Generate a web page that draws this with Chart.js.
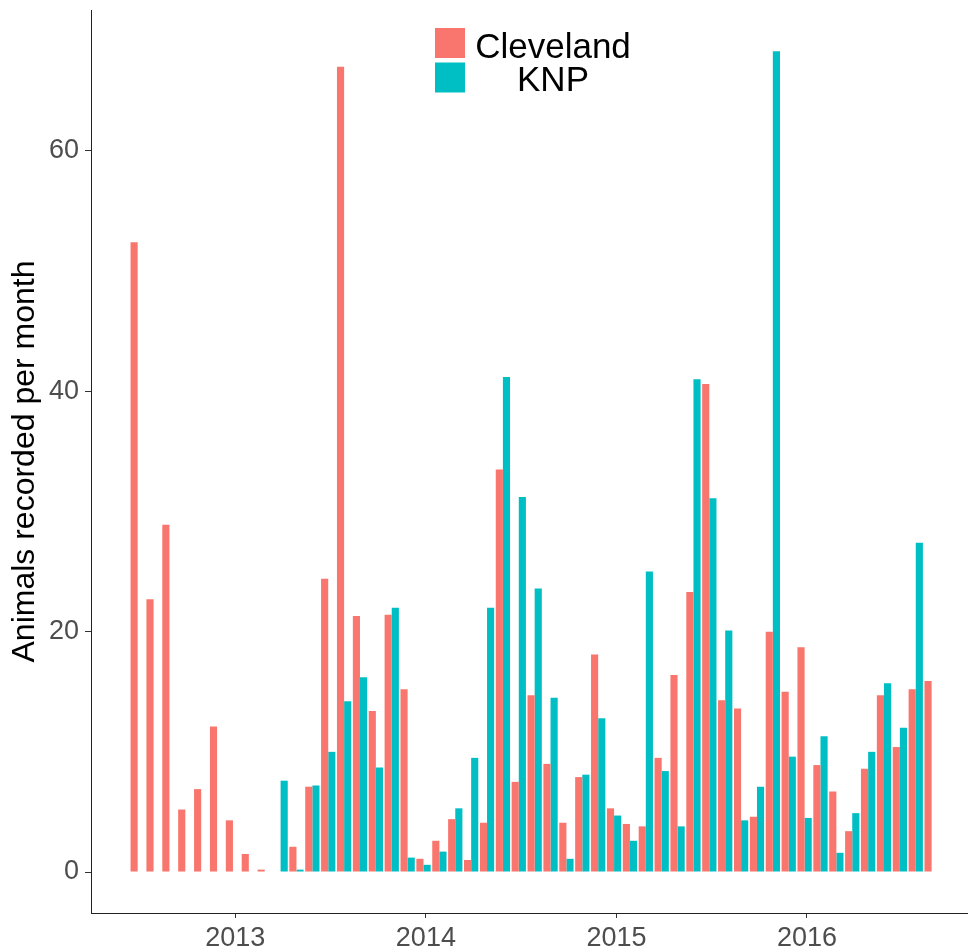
<!DOCTYPE html>
<html>
<head>
<meta charset="utf-8">
<title>Animals recorded per month</title>
<script src="https://cdn.jsdelivr.net/npm/chart.js@4.4.1/dist/chart.umd.min.js"></script>
<style>
  html, body { margin: 0; padding: 0; background: #fff; }
  #wrap { width: 968px; height: 952px; }
</style>
</head>
<body>
<div id="wrap"><canvas id="animalsChart" width="968" height="952"></canvas></div>
<script>
// monthly counts, Jul 2012 - Sep 2016
const months = [
  "2012-07","2012-08","2012-09","2012-10","2012-11","2012-12",
  "2013-01","2013-02","2013-03","2013-04","2013-05","2013-06",
  "2013-07","2013-08","2013-09","2013-10","2013-11","2013-12",
  "2014-01","2014-02","2014-03","2014-04","2014-05","2014-06",
  "2014-07","2014-08","2014-09","2014-10","2014-11","2014-12",
  "2015-01","2015-02","2015-03","2015-04","2015-05","2015-06",
  "2015-07","2015-08","2015-09","2015-10","2015-11","2015-12",
  "2016-01","2016-02","2016-03","2016-04","2016-05","2016-06",
  "2016-07","2016-08","2016-09"
];

const cleveland = [
  52.4, 22.7, 28.9, 5.2, 6.9, 12.1,
  4.3, 1.5, 0.2, null, 2.1, 7.1, 24.4, 67.0, 21.3, 13.4, 21.4, 15.2,
  1.1, 2.6, 4.4, 1.0, 4.1, 33.5, 7.5, 14.7, 9.0, 4.1, 7.9, 18.1,
  5.3, 4.0, 3.8, 9.5, 16.4, 23.3, 40.6, 14.3, 13.6, 4.6, 20.0, 15.0,
  18.7, 8.9, 6.7, 3.4, 8.6, 14.7, 10.4, 15.2, 15.9
];

const knp = [
  null, null, null, null, null, null,
  null, null, null, 7.6, 0.2, 7.2, 10.0, 14.2, 16.2, 8.7, 22.0, 1.2,
  0.6, 1.7, 5.3, 9.5, 22.0, 41.2, 31.2, 23.6, 14.5, 1.1, 8.1, 12.8,
  4.7, 2.6, 25.0, 8.4, 3.8, 41.0, 31.1, 20.1, 4.3, 7.1, 68.3, 9.6,
  4.5, 11.3, 1.6, 4.9, 10.0, 15.7, 12.0, 27.4, null
];

const seriesNames = ["Cleveland", "KNP"];
const seriesColors = ["#F8766D", "#00BFC4"];

const yearLabels = ["2013", "2014", "2015", "2016"];
const yTicks = [0, 20, 40, 60];

const fontFamily = '"Liberation Sans", Arial, sans-serif';

// year ticks sit a little after the January bar pair
const yearTickPos = yearLabels.map(y => months.indexOf(y + "-01") + 0.15);

function toPoints(values) {
  return values.map((v, i) => ({ x: i, y: v }));
}

// legend drawn inside the plot, top centre
const insideLegend = {
  id: "insideLegend",
  afterDraw(chart) {
    const ctx = chart.ctx;
    ctx.save();
    seriesColors.forEach((c, i) => {
      ctx.fillStyle = c;
      ctx.fillRect(435, 28 + i * 34.5, 30, 30);
    });
    ctx.fillStyle = "#000";
    ctx.font = "35px " + fontFamily;
    ctx.textAlign = "center";
    ctx.textBaseline = "alphabetic";
    ctx.fillText(seriesNames[0], 553, 58);
    ctx.fillText(seriesNames[1], 553, 91);
    ctx.restore();
  }
};

const ctx = document.getElementById("animalsChart").getContext("2d");

new Chart(ctx, {
  type: "bar",
  data: {
    datasets: [
      {
        label: seriesNames[0],
        data: toPoints(cleveland),
        backgroundColor: seriesColors[0],
        borderWidth: 0
      },
      {
        label: seriesNames[1],
        data: toPoints(knp),
        backgroundColor: seriesColors[1],
        borderWidth: 0
      }
    ]
  },
  options: {
    responsive: false,
    animation: false,
    devicePixelRatio: 1,
    categoryPercentage: 0.9,
    barPercentage: 1.0,
    layout: { padding: { top: 10, left: 0, right: 0, bottom: 0 } },
    plugins: {
      legend: { display: false },
      tooltip: { enabled: false }
    },
    scales: {
      x: {
        type: "linear",
        offset: false,
        min: -2.94,
        max: 52.29,
        afterBuildTicks: scale => {
          scale.ticks = yearTickPos.map(v => ({ value: v }));
        },
        afterFit: scale => {
          scale.height = 39;
          scale.paddingLeft = 0;
          scale.paddingRight = 0;
        },
        ticks: {
          autoSkip: false,
          maxRotation: 0,
          padding: 4,
          color: "#4D4D4D",
          font: { family: fontFamily, size: 27 },
          callback: (value, index) => yearLabels[index]
        },
        grid: {
          display: true,
          offset: false,
          drawOnChartArea: false,
          drawTicks: true,
          tickLength: 5,
          color: "#333"
        },
        border: { display: true, color: "#222", width: 1 }
      },
      y: {
        min: -3.41,
        max: 71.73,
        afterBuildTicks: scale => {
          scale.ticks = yTicks.map(v => ({ value: v }));
        },
        afterFit: scale => {
          // keep the plot box where the reference has it
          scale.width = 91;
          scale.paddingTop = 0;
          scale.paddingBottom = 0;
        },
        ticks: {
          padding: 6,
          color: "#4D4D4D",
          font: { family: fontFamily, size: 27 }
        },
        grid: {
          display: true,
          drawOnChartArea: false,
          drawTicks: true,
          tickLength: 6,
          color: "#333"
        },
        border: { display: true, color: "#222", width: 1 },
        title: {
          display: true,
          text: "Animals recorded per month",
          color: "#000",
          font: { family: fontFamily, size: 32 },
          padding: { top: 6, bottom: 0 }
        }
      }
    }
  },
  plugins: [insideLegend]
});
</script>
</body>
</html>
